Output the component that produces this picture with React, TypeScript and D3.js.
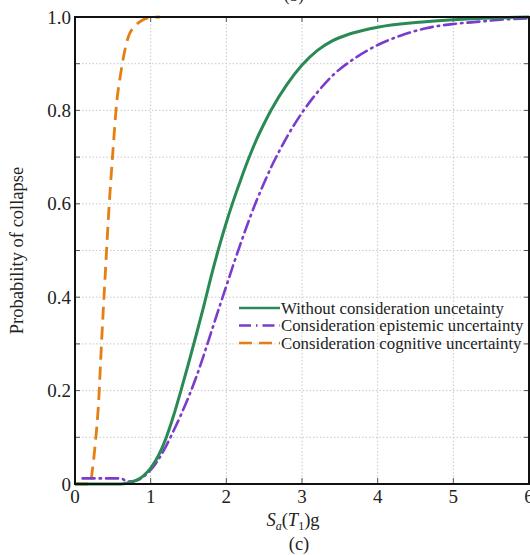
import React from "react";
import * as d3 from "d3";

const greenX = [0, 0.6, 0.7, 0.8, 0.9, 1.0, 1.1, 1.2, 1.3, 1.4, 1.5, 1.6, 1.7, 1.8, 1.9, 2.0, 2.1, 2.2, 2.3, 2.4, 2.5, 2.6, 2.8, 3.0, 3.2, 3.4, 3.6, 3.8, 4.0, 4.5, 5.0, 5.5, 6.0];
const greenY = [0, 0, 0.002, 0.007, 0.017, 0.034, 0.06, 0.097, 0.145, 0.2, 0.258, 0.318, 0.38, 0.445, 0.505, 0.56, 0.61, 0.656, 0.699, 0.738, 0.772, 0.803, 0.855, 0.897, 0.928, 0.949, 0.962, 0.971, 0.978, 0.988, 0.994, 0.998, 1.0];

const purpleX = [0.1, 0.6, 0.7, 0.8, 0.9, 1.0, 1.1, 1.2, 1.3, 1.4, 1.5, 1.6, 1.7, 1.8, 1.9, 2.0, 2.1, 2.2, 2.3, 2.4, 2.5, 2.6, 2.7, 2.8, 2.9, 3.0, 3.2, 3.4, 3.7, 4.0, 4.3, 4.64, 5.0, 5.34, 5.7, 6.0];
const purpleY = [0.012, 0.012, 0.005, 0.007, 0.015, 0.03, 0.052, 0.08, 0.113, 0.148, 0.186, 0.228, 0.275, 0.325, 0.375, 0.424, 0.473, 0.52, 0.565, 0.607, 0.645, 0.681, 0.713, 0.743, 0.77, 0.795, 0.838, 0.874, 0.912, 0.94, 0.96, 0.976, 0.985, 0.99, 0.995, 0.997];

const orangeX = [0, 0.2, 0.23, 0.27, 0.31, 0.35, 0.4, 0.45, 0.5, 0.55, 0.6, 0.65, 0.7, 0.8, 0.9, 1.0, 1.12];
const orangeY = [0, 0, 0.03, 0.09, 0.17, 0.3, 0.45, 0.593, 0.71, 0.815, 0.875, 0.922, 0.955, 0.982, 0.994, 0.999, 1.0];

const xTicks = [0, 1, 2, 3, 4, 5, 6];
const yLabelTicks = [0, 0.2, 0.4, 0.6, 0.8, 1.0];
const yMinorTicks = [0, 0.1, 0.2, 0.3, 0.4, 0.5, 0.6, 0.7, 0.8, 0.9, 1.0];

const legendLabels = [
  "Without consideration uncetainty",
  "Consideration epistemic uncertainty",
  "Consideration cognitive uncertainty",
];

const GREEN = "#2a8a55";
const PURPLE = "#7a3ccc";
const ORANGE = "#e57f12";

export default function App() {
  const left = 75, right = 529, top = 17, bottom = 484;
  const x = d3.scaleLinear().domain([0, 6]).range([left, right]);
  const y = d3.scaleLinear().domain([0, 1]).range([bottom, top]);
  const line = d3
    .line<[number, number]>()
    .x((d) => x(d[0]))
    .y((d) => y(d[1]))
    .curve(d3.curveMonotoneX);
  const zip = (xs: number[], ys: number[]) => xs.map((v, i) => [v, ys[i]] as [number, number]);
  const font = "'Liberation Serif', 'Times New Roman', serif";

  const legendStyles = [
    { color: GREEN, dash: "none" },
    { color: PURPLE, dash: "12 5 1.5 5" },
    { color: ORANGE, dash: "13 7" },
  ];

  return (
    <svg width={530} height={555} style={{ position: "absolute", left: 0, top: 0, background: "#fff" }} fontFamily={font}>
      <rect x={0} y={0} width={530} height={555} fill="#fff" />
      {/* top cut-off label */}
      <text x={294} y={1} textAnchor="middle" fontSize={17} fill="#222">(b)</text>
      {/* grid */}
      {xTicks.slice(1, -1).map((t) => (
        <line key={"gx" + t} x1={x(t)} x2={x(t)} y1={top} y2={bottom} stroke="#c8c8c8" strokeWidth={1} strokeDasharray="1.5 2" />
      ))}
      {yMinorTicks.slice(1, -1).map((t) => (
        <line key={"gy" + t} x1={left} x2={right} y1={y(t)} y2={y(t)} stroke="#c8c8c8" strokeWidth={1} strokeDasharray="1.5 2" />
      ))}
      {/* ticks */}
      {yMinorTicks.map((t) => (
        <g key={"ty" + t}>
          <line x1={left} x2={left + 5} y1={y(t)} y2={y(t)} stroke="#555" strokeWidth={1} />
          <line x1={right - 5} x2={right} y1={y(t)} y2={y(t)} stroke="#555" strokeWidth={1} />
        </g>
      ))}
      {xTicks.map((t) => (
        <g key={"tx" + t}>
          <line x1={x(t)} x2={x(t)} y1={top} y2={top + 5} stroke="#555" strokeWidth={1} />
          <line x1={x(t)} x2={x(t)} y1={bottom - 6} y2={bottom} stroke="#555" strokeWidth={1} />
        </g>
      ))}
      {/* curves */}
      <path d={line(zip(orangeX, orangeY)) || ""} fill="none" stroke={ORANGE} strokeWidth={2.8} strokeDasharray="13 7" />
      <path d={line(zip(purpleX, purpleY)) || ""} fill="none" stroke={PURPLE} strokeWidth={2.6} strokeDasharray="12 5 1.5 5" strokeLinecap="round" />
      <path d={line(zip(greenX, greenY)) || ""} fill="none" stroke={GREEN} strokeWidth={3} />
      {/* frame */}
      <rect x={left} y={top} width={right - left} height={bottom - top} fill="none" stroke="#111" strokeWidth={2} />
      {/* tick labels */}
      {yLabelTicks.map((t) => (
        <text key={"ly" + t} x={left - 4} y={y(t) + 6.5} textAnchor="end" fontSize={19} fill="#222">
          {t === 0 ? "0" : t.toFixed(1)}
        </text>
      ))}
      {xTicks.map((t) => (
        <text key={"lx" + t} x={x(t)} y={bottom + 19} textAnchor="middle" fontSize={19} fill="#222">
          {t}
        </text>
      ))}
      {/* axis titles */}
      <text transform={`translate(23, ${(top + bottom) / 2}) rotate(-90)`} textAnchor="middle" fontSize={18.5} fill="#222">
        Probability of collapse
      </text>
      <text x={293} y={526} textAnchor="middle" fontSize={18.5} fill="#222">
        <tspan fontStyle="italic">S</tspan>
        <tspan fontStyle="italic" fontSize={12} dy={3.5}>a</tspan>
        <tspan dy={-3.5}>(</tspan>
        <tspan fontStyle="italic">T</tspan>
        <tspan fontSize={12} dy={3.5}>1</tspan>
        <tspan dy={-3.5}>)g</tspan>
      </text>
      <text x={299} y={550} textAnchor="middle" fontSize={18.5} fill="#222">(c)</text>
      {/* legend */}
      {legendLabels.map((lab, i) => {
        const ly = 308 + i * 17.5;
        return (
          <g key={lab}>
            <line x1={239} x2={280} y1={ly} y2={ly} stroke={legendStyles[i].color} strokeWidth={2.5} strokeDasharray={legendStyles[i].dash} />
            <text x={281} y={ly + 5.5} fontSize={16.8} fill="#222">{lab}</text>
          </g>
        );
      })}
    </svg>
  );
}
